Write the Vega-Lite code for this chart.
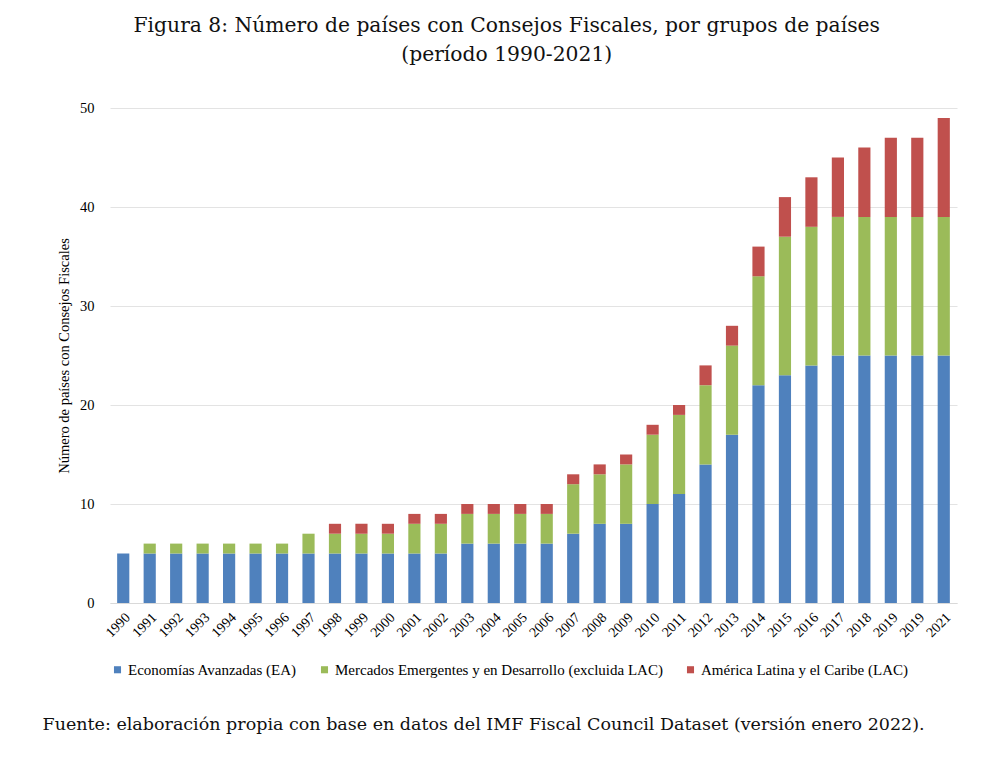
{
  "$schema": "https://vega.github.io/schema/vega-lite/v6.json",
  "background": "white",
  "padding": {"left": 42, "right": 20, "top": 15, "bottom": 10},
  "title": {
    "text": "Fuente: elaboración propia con base en datos del IMF Fiscal Council Dataset (versión enero 2022).",
    "orient": "bottom",
    "anchor": "start",
    "frame": "bounds",
    "font": "DejaVu Serif",
    "fontSize": 17.5,
    "fontWeight": "normal",
    "color": "#111",
    "offset": 38,
    "dx": -14
  },
  "datasets": {
    "consejos": [
      {"anio": "1990", "grupo": "Economías Avanzadas (EA)", "orden": 1, "n": 5},
      {"anio": "1990", "grupo": "Mercados Emergentes y en Desarrollo (excluida LAC)", "orden": 2, "n": 0},
      {"anio": "1990", "grupo": "América Latina y el Caribe (LAC)", "orden": 3, "n": 0},
      {"anio": "1991", "grupo": "Economías Avanzadas (EA)", "orden": 1, "n": 5},
      {"anio": "1991", "grupo": "Mercados Emergentes y en Desarrollo (excluida LAC)", "orden": 2, "n": 1},
      {"anio": "1991", "grupo": "América Latina y el Caribe (LAC)", "orden": 3, "n": 0},
      {"anio": "1992", "grupo": "Economías Avanzadas (EA)", "orden": 1, "n": 5},
      {"anio": "1992", "grupo": "Mercados Emergentes y en Desarrollo (excluida LAC)", "orden": 2, "n": 1},
      {"anio": "1992", "grupo": "América Latina y el Caribe (LAC)", "orden": 3, "n": 0},
      {"anio": "1993", "grupo": "Economías Avanzadas (EA)", "orden": 1, "n": 5},
      {"anio": "1993", "grupo": "Mercados Emergentes y en Desarrollo (excluida LAC)", "orden": 2, "n": 1},
      {"anio": "1993", "grupo": "América Latina y el Caribe (LAC)", "orden": 3, "n": 0},
      {"anio": "1994", "grupo": "Economías Avanzadas (EA)", "orden": 1, "n": 5},
      {"anio": "1994", "grupo": "Mercados Emergentes y en Desarrollo (excluida LAC)", "orden": 2, "n": 1},
      {"anio": "1994", "grupo": "América Latina y el Caribe (LAC)", "orden": 3, "n": 0},
      {"anio": "1995", "grupo": "Economías Avanzadas (EA)", "orden": 1, "n": 5},
      {"anio": "1995", "grupo": "Mercados Emergentes y en Desarrollo (excluida LAC)", "orden": 2, "n": 1},
      {"anio": "1995", "grupo": "América Latina y el Caribe (LAC)", "orden": 3, "n": 0},
      {"anio": "1996", "grupo": "Economías Avanzadas (EA)", "orden": 1, "n": 5},
      {"anio": "1996", "grupo": "Mercados Emergentes y en Desarrollo (excluida LAC)", "orden": 2, "n": 1},
      {"anio": "1996", "grupo": "América Latina y el Caribe (LAC)", "orden": 3, "n": 0},
      {"anio": "1997", "grupo": "Economías Avanzadas (EA)", "orden": 1, "n": 5},
      {"anio": "1997", "grupo": "Mercados Emergentes y en Desarrollo (excluida LAC)", "orden": 2, "n": 2},
      {"anio": "1997", "grupo": "América Latina y el Caribe (LAC)", "orden": 3, "n": 0},
      {"anio": "1998", "grupo": "Economías Avanzadas (EA)", "orden": 1, "n": 5},
      {"anio": "1998", "grupo": "Mercados Emergentes y en Desarrollo (excluida LAC)", "orden": 2, "n": 2},
      {"anio": "1998", "grupo": "América Latina y el Caribe (LAC)", "orden": 3, "n": 1},
      {"anio": "1999", "grupo": "Economías Avanzadas (EA)", "orden": 1, "n": 5},
      {"anio": "1999", "grupo": "Mercados Emergentes y en Desarrollo (excluida LAC)", "orden": 2, "n": 2},
      {"anio": "1999", "grupo": "América Latina y el Caribe (LAC)", "orden": 3, "n": 1},
      {"anio": "2000", "grupo": "Economías Avanzadas (EA)", "orden": 1, "n": 5},
      {"anio": "2000", "grupo": "Mercados Emergentes y en Desarrollo (excluida LAC)", "orden": 2, "n": 2},
      {"anio": "2000", "grupo": "América Latina y el Caribe (LAC)", "orden": 3, "n": 1},
      {"anio": "2001", "grupo": "Economías Avanzadas (EA)", "orden": 1, "n": 5},
      {"anio": "2001", "grupo": "Mercados Emergentes y en Desarrollo (excluida LAC)", "orden": 2, "n": 3},
      {"anio": "2001", "grupo": "América Latina y el Caribe (LAC)", "orden": 3, "n": 1},
      {"anio": "2002", "grupo": "Economías Avanzadas (EA)", "orden": 1, "n": 5},
      {"anio": "2002", "grupo": "Mercados Emergentes y en Desarrollo (excluida LAC)", "orden": 2, "n": 3},
      {"anio": "2002", "grupo": "América Latina y el Caribe (LAC)", "orden": 3, "n": 1},
      {"anio": "2003", "grupo": "Economías Avanzadas (EA)", "orden": 1, "n": 6},
      {"anio": "2003", "grupo": "Mercados Emergentes y en Desarrollo (excluida LAC)", "orden": 2, "n": 3},
      {"anio": "2003", "grupo": "América Latina y el Caribe (LAC)", "orden": 3, "n": 1},
      {"anio": "2004", "grupo": "Economías Avanzadas (EA)", "orden": 1, "n": 6},
      {"anio": "2004", "grupo": "Mercados Emergentes y en Desarrollo (excluida LAC)", "orden": 2, "n": 3},
      {"anio": "2004", "grupo": "América Latina y el Caribe (LAC)", "orden": 3, "n": 1},
      {"anio": "2005", "grupo": "Economías Avanzadas (EA)", "orden": 1, "n": 6},
      {"anio": "2005", "grupo": "Mercados Emergentes y en Desarrollo (excluida LAC)", "orden": 2, "n": 3},
      {"anio": "2005", "grupo": "América Latina y el Caribe (LAC)", "orden": 3, "n": 1},
      {"anio": "2006", "grupo": "Economías Avanzadas (EA)", "orden": 1, "n": 6},
      {"anio": "2006", "grupo": "Mercados Emergentes y en Desarrollo (excluida LAC)", "orden": 2, "n": 3},
      {"anio": "2006", "grupo": "América Latina y el Caribe (LAC)", "orden": 3, "n": 1},
      {"anio": "2007", "grupo": "Economías Avanzadas (EA)", "orden": 1, "n": 7},
      {"anio": "2007", "grupo": "Mercados Emergentes y en Desarrollo (excluida LAC)", "orden": 2, "n": 5},
      {"anio": "2007", "grupo": "América Latina y el Caribe (LAC)", "orden": 3, "n": 1},
      {"anio": "2008", "grupo": "Economías Avanzadas (EA)", "orden": 1, "n": 8},
      {"anio": "2008", "grupo": "Mercados Emergentes y en Desarrollo (excluida LAC)", "orden": 2, "n": 5},
      {"anio": "2008", "grupo": "América Latina y el Caribe (LAC)", "orden": 3, "n": 1},
      {"anio": "2009", "grupo": "Economías Avanzadas (EA)", "orden": 1, "n": 8},
      {"anio": "2009", "grupo": "Mercados Emergentes y en Desarrollo (excluida LAC)", "orden": 2, "n": 6},
      {"anio": "2009", "grupo": "América Latina y el Caribe (LAC)", "orden": 3, "n": 1},
      {"anio": "2010", "grupo": "Economías Avanzadas (EA)", "orden": 1, "n": 10},
      {"anio": "2010", "grupo": "Mercados Emergentes y en Desarrollo (excluida LAC)", "orden": 2, "n": 7},
      {"anio": "2010", "grupo": "América Latina y el Caribe (LAC)", "orden": 3, "n": 1},
      {"anio": "2011", "grupo": "Economías Avanzadas (EA)", "orden": 1, "n": 11},
      {"anio": "2011", "grupo": "Mercados Emergentes y en Desarrollo (excluida LAC)", "orden": 2, "n": 8},
      {"anio": "2011", "grupo": "América Latina y el Caribe (LAC)", "orden": 3, "n": 1},
      {"anio": "2012", "grupo": "Economías Avanzadas (EA)", "orden": 1, "n": 14},
      {"anio": "2012", "grupo": "Mercados Emergentes y en Desarrollo (excluida LAC)", "orden": 2, "n": 8},
      {"anio": "2012", "grupo": "América Latina y el Caribe (LAC)", "orden": 3, "n": 2},
      {"anio": "2013", "grupo": "Economías Avanzadas (EA)", "orden": 1, "n": 17},
      {"anio": "2013", "grupo": "Mercados Emergentes y en Desarrollo (excluida LAC)", "orden": 2, "n": 9},
      {"anio": "2013", "grupo": "América Latina y el Caribe (LAC)", "orden": 3, "n": 2},
      {"anio": "2014", "grupo": "Economías Avanzadas (EA)", "orden": 1, "n": 22},
      {"anio": "2014", "grupo": "Mercados Emergentes y en Desarrollo (excluida LAC)", "orden": 2, "n": 11},
      {"anio": "2014", "grupo": "América Latina y el Caribe (LAC)", "orden": 3, "n": 3},
      {"anio": "2015", "grupo": "Economías Avanzadas (EA)", "orden": 1, "n": 23},
      {"anio": "2015", "grupo": "Mercados Emergentes y en Desarrollo (excluida LAC)", "orden": 2, "n": 14},
      {"anio": "2015", "grupo": "América Latina y el Caribe (LAC)", "orden": 3, "n": 4},
      {"anio": "2016", "grupo": "Economías Avanzadas (EA)", "orden": 1, "n": 24},
      {"anio": "2016", "grupo": "Mercados Emergentes y en Desarrollo (excluida LAC)", "orden": 2, "n": 14},
      {"anio": "2016", "grupo": "América Latina y el Caribe (LAC)", "orden": 3, "n": 5},
      {"anio": "2017", "grupo": "Economías Avanzadas (EA)", "orden": 1, "n": 25},
      {"anio": "2017", "grupo": "Mercados Emergentes y en Desarrollo (excluida LAC)", "orden": 2, "n": 14},
      {"anio": "2017", "grupo": "América Latina y el Caribe (LAC)", "orden": 3, "n": 6},
      {"anio": "2018", "grupo": "Economías Avanzadas (EA)", "orden": 1, "n": 25},
      {"anio": "2018", "grupo": "Mercados Emergentes y en Desarrollo (excluida LAC)", "orden": 2, "n": 14},
      {"anio": "2018", "grupo": "América Latina y el Caribe (LAC)", "orden": 3, "n": 7},
      {"anio": "2019", "grupo": "Economías Avanzadas (EA)", "orden": 1, "n": 25},
      {"anio": "2019", "grupo": "Mercados Emergentes y en Desarrollo (excluida LAC)", "orden": 2, "n": 14},
      {"anio": "2019", "grupo": "América Latina y el Caribe (LAC)", "orden": 3, "n": 8},
      {"anio": "2020", "grupo": "Economías Avanzadas (EA)", "orden": 1, "n": 25},
      {"anio": "2020", "grupo": "Mercados Emergentes y en Desarrollo (excluida LAC)", "orden": 2, "n": 14},
      {"anio": "2020", "grupo": "América Latina y el Caribe (LAC)", "orden": 3, "n": 8},
      {"anio": "2021", "grupo": "Economías Avanzadas (EA)", "orden": 1, "n": 25},
      {"anio": "2021", "grupo": "Mercados Emergentes y en Desarrollo (excluida LAC)", "orden": 2, "n": 14},
      {"anio": "2021", "grupo": "América Latina y el Caribe (LAC)", "orden": 3, "n": 10}
    ]
  },
  "vconcat": [
    {
      "title": {
        "text": ["Figura 8: Número de países con Consejos Fiscales, por grupos de países", "(período 1990-2021)"],
        "anchor": "middle",
        "frame": "bounds",
        "font": "DejaVu Serif",
        "fontSize": 20.3,
        "fontWeight": "normal",
        "color": "#111",
        "lineHeight": 29,
        "offset": 35
      },
      "width": 847,
      "height": 495,
      "data": {"name": "consejos"},
      "mark": {"type": "bar", "width": {"band": 0.46}},
      "encoding": {
        "x": {
          "field": "anio",
          "type": "ordinal",
          "title": null,
          "scale": {"paddingInner": 0, "paddingOuter": 0},
          "axis": {
            "labelAngle": -45,
            "labelExpr": "datum.value == '2020' ? '2019' : datum.label",
            "labelFont": "Liberation Serif",
            "labelFontSize": 14,
            "labelColor": "#000",
            "ticks": false,
            "labelPadding": 7,
            "domainColor": "#d9d9d9",
            "grid": false
          }
        },
        "y": {
          "field": "n",
          "type": "quantitative",
          "aggregate": "sum",
          "stack": "zero",
          "title": "Número de países con Consejos Fiscales",
          "scale": {"domain": [0, 50]},
          "axis": {
            "values": [0, 10, 20, 30, 40, 50],
            "labelFont": "Liberation Serif",
            "labelFontSize": 14.5,
            "labelColor": "#000",
            "ticks": false,
            "labelPadding": 16,
            "domain": false,
            "gridColor": "#e3e3e3",
            "titleFont": "Liberation Serif",
            "titleFontSize": 14.5,
            "titleFontWeight": "normal",
            "titleColor": "#000",
            "titlePadding": 8
          }
        },
        "color": {
          "field": "grupo",
          "type": "nominal",
          "sort": ["Economías Avanzadas (EA)", "Mercados Emergentes y en Desarrollo (excluida LAC)", "América Latina y el Caribe (LAC)"],
          "scale": {
            "domain": ["Economías Avanzadas (EA)", "Mercados Emergentes y en Desarrollo (excluida LAC)", "América Latina y el Caribe (LAC)"],
            "range": ["#4f81bd", "#9bbb59", "#c0504d"]
          },
          "legend": {
            "title": null,
            "orient": "bottom",
            "direction": "horizontal",
            "symbolType": "square",
            "symbolSize": 50,
            "symbolStrokeWidth": 0,
            "labelFont": "Liberation Serif",
            "labelFontSize": 15,
            "labelColor": "#000",
            "labelLimit": 500,
            "columnPadding": 20,
            "labelOffset": 3,
            "offset": 22
          }
        },
        "order": {"field": "orden", "type": "quantitative", "sort": "ascending"}
      }
    }
  ],
  "resolve": {"legend": {"color": "independent"}},
  "config": {
    "view": {"stroke": null},
    "concat": {"spacing": 0},
    "legend": {"labelFont": "Liberation Serif"}
  }
}
